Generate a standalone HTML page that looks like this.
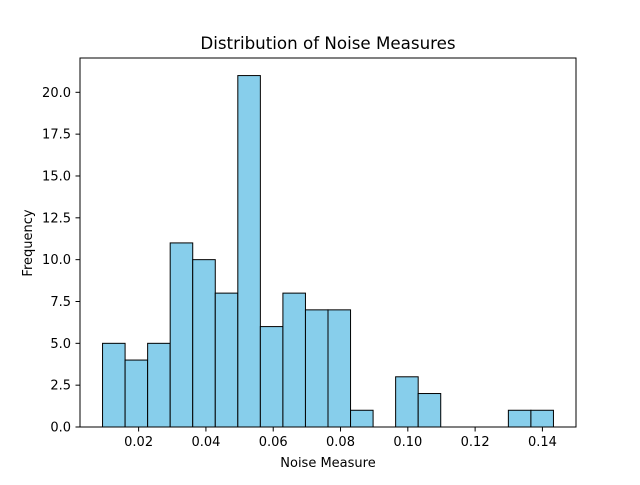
<!DOCTYPE html>
<html><head><meta charset="utf-8"><style>
body{margin:0;background:#fff;}
svg text{font-family:"DejaVu Sans","Liberation Sans",sans-serif;fill:#000;}
</style></head><body>
<svg id="chart" width="640" height="480">
<rect width="640" height="480" fill="#fff"/>
<text x="328" y="49" font-size="16.7" text-anchor="middle">Distribution of Noise Measures</text>
<text x="328" y="467" font-size="13" text-anchor="middle">Noise Measure</text>
<text transform="translate(32,243) rotate(-90)" font-size="13" text-anchor="middle">Frequency</text>
<g id="bars"></g><g id="xt"></g><g id="yt"></g>
<rect x="80" y="58" width="496" height="369" fill="none" stroke="#000" stroke-width="1"/>
</svg>
<script>
const counts=[5,4,5,11,10,8,21,6,8,7,7,1,0,3,2,0,0,0,1,1];
const binStart=0.00928;
const binEnd=0.14328;
const xTicks=[0.02,0.04,0.06,0.08,0.10,0.12,0.14];
const xTickLabels=["0.02","0.04","0.06","0.08","0.10","0.12","0.14"];
const yTicks=[0,2.5,5,7.5,10,12.5,15,17.5,20];
const yTickLabels=["0.0","2.5","5.0","7.5","10.0","12.5","15.0","17.5","20.0"];
const NS="http://www.w3.org/2000/svg";
const pad=(binEnd-binStart)*0.05;
const xmin=binStart-pad,xmax=binEnd+pad;
const ymax=Math.max(...counts)*1.05;
const X=v=>80+(v-xmin)/(xmax-xmin)*496;
const Y=v=>427-v/ymax*369;
const w=(binEnd-binStart)/counts.length;
const bars=document.getElementById('bars');
counts.forEach((c,i)=>{
 if(c<=0)return;
 const r=document.createElementNS(NS,'rect');
 const x0=X(binStart+i*w),x1=X(binStart+(i+1)*w);
 r.setAttribute('x',x0);r.setAttribute('width',x1-x0);
 r.setAttribute('y',Y(c));r.setAttribute('height',Y(0)-Y(c));
 r.setAttribute('fill','#87ceeb');r.setAttribute('stroke','#000');r.setAttribute('stroke-width','1');
 
 
 bars.appendChild(r);
});
const xt=document.getElementById('xt');
xTicks.forEach((v,i)=>{
 const l=document.createElementNS(NS,'line');
 l.setAttribute('x1',X(v));l.setAttribute('x2',X(v));l.setAttribute('y1',427);l.setAttribute('y2',431.5);l.setAttribute('stroke','#000');
 
 
 xt.appendChild(l);
 const t=document.createElementNS(NS,'text');
 t.setAttribute('x',X(v));t.setAttribute('y',446);t.setAttribute('font-size','13');t.setAttribute('text-anchor','middle');
 t.textContent=xTickLabels[i];
 
 
 xt.appendChild(t);
});
const yt=document.getElementById('yt');
yTicks.forEach((v,i)=>{
 const l=document.createElementNS(NS,'line');
 l.setAttribute('x1',75.5);l.setAttribute('x2',80);l.setAttribute('y1',Y(v));l.setAttribute('y2',Y(v));l.setAttribute('stroke','#000');
 
 
 yt.appendChild(l);
 const t=document.createElementNS(NS,'text');
 t.setAttribute('x',71);t.setAttribute('y',Y(v)+4.5);t.setAttribute('font-size','13');t.setAttribute('text-anchor','end');
 t.textContent=yTickLabels[i];
 
 
 yt.appendChild(t);
});
</script>
</body></html>
